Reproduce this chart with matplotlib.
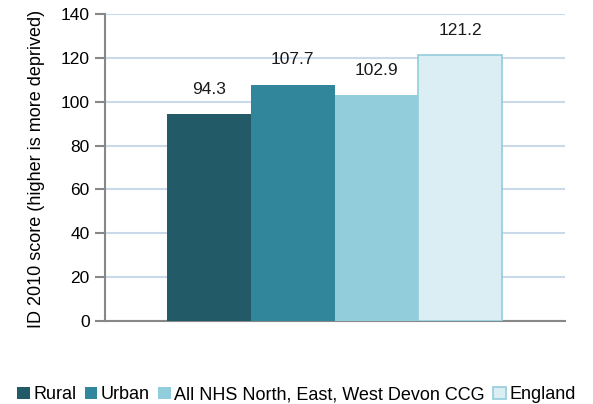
import matplotlib
matplotlib.use("Agg")
from matplotlib import pyplot as plt

CATEGORIES = ['Rural', 'Urban', 'All NHS North, East, West Devon CCG', 'England']
SCORES = [94.3, 107.7, 102.9, 121.2]
FILLS = ['#225a68', '#31869b', '#92cddc', '#daeef3']
EDGES = ['#225a68', '#31869b', '#92cddc', '#92cddc']

plt.rcParams['font.family'] = ['Liberation Sans', 'DejaVu Sans']

fig = plt.figure(figsize=(5.93, 4.04), dpi=100)
ax = fig.add_axes([0.177, 0.2054, 0.776, 0.76])

for i, (name, val) in enumerate(zip(CATEGORIES, SCORES)):
    ax.bar(i, val, width=1.0, color=FILLS[i], edgecolor=EDGES[i],
           linewidth=1.2 if i == 3 else 0, label=name, zorder=3)
    ax.text(i, val + 8, f'{val:.1f}', ha='center', va='bottom', fontsize=12.5, color='#1a1a1a')

ax.set_xlim(-1.24, 4.25)
ax.set_ylim(0, 140)
ax.set_yticks(range(0, 141, 20))
ax.set_xticks([])
ax.yaxis.grid(True, color='#c9d9ea', linewidth=1.5, zorder=0)
ax.set_axisbelow(True)

for s in ['top', 'right']:
    ax.spines[s].set_visible(False)
for s in ['left', 'bottom']:
    ax.spines[s].set_color('#878787')
    ax.spines[s].set_linewidth(1.5)
ax.tick_params(axis='y', length=7, width=1.5, color='#878787', labelsize=12.5, pad=4)
ax.set_ylabel('ID 2010 score (higher is more deprived)', fontsize=13)
ax.yaxis.set_label_coords(-0.13, 0.495)

fig.legend(loc='center', bbox_to_anchor=(0.5, 0.023), ncol=4, frameon=False,
           fontsize=13, handlelength=0.7, handleheight=0.7, handletextpad=0.2,
           columnspacing=0.45, borderaxespad=0)

fig.savefig('out.png', dpi=100)
